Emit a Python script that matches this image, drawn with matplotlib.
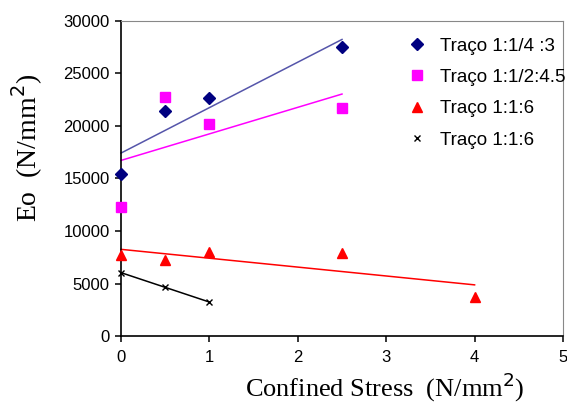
import numpy as np
import matplotlib
matplotlib.use("Agg")
import matplotlib.pyplot as plt

# Data
x_a = [0, 0.5, 1, 2.5]
y_a = [15400, 21400, 22700, 27500]          # Traço 1:1/4 :3
x_b = [0, 0.5, 1, 2.5]
y_b = [12300, 22800, 20200, 21700]          # Traço 1:1/2:4.5
x_c = [0, 0.5, 1, 2.5, 4]
y_c = [7700, 7200, 8000, 7900, 3700]        # Traço 1:1:6
x_d = [0, 0.5, 1]
y_d = [6000, 4700, 3200]                    # Traço 1:1:6 (x)

labels = ["Traço 1:1/4 :3", "Traço 1:1/2:4.5", "Traço 1:1:6", "Traço 1:1:6"]
x_ticks = [0, 1, 2, 3, 4, 5]
y_ticks = [0, 5000, 10000, 15000, 20000, 25000, 30000]

fig = plt.figure(figsize=(5.67, 4.08), dpi=100)
ax = fig.add_axes([121/567, 1-336/408, 442/567, 315/408])

series = [
    (x_a, y_a, dict(marker="D", color="#000080", ms=6), "#5555aa"),
    (x_b, y_b, dict(marker="s", color="#ff00ff", ms=6.5), "#ff00ff"),
    (x_c, y_c, dict(marker="^", color="#ff0000", ms=7.5), "#ff0000"),
    (x_d, y_d, dict(marker="x", color="#000000", ms=4, mew=1), "#000000"),
]
handles = []
for (xs, ys, mk, lc), lab in zip(series, labels):
    xs = np.array(xs, float); ys = np.array(ys, float)
    m, b = np.polyfit(xs, ys, 1)
    xx = np.array([xs.min(), xs.max()])
    ax.plot(xx, m*xx + b, color=lc, lw=1.1, zorder=2, clip_on=False)
    h, = ax.plot(xs, ys, linestyle="none", label=lab, zorder=3, clip_on=False, **mk)
    handles.append(h)

ax.set_xlim(0, 5)
ax.set_ylim(0, 30000)
ax.set_xticks(x_ticks)
ax.set_yticks(y_ticks)
for s in ["top", "right"]:
    ax.spines[s].set_color("#888888")
for s in ["left", "bottom"]:
    ax.spines[s].set_color("black")
    ax.spines[s].set_linewidth(1.2)
ax.tick_params(direction="out", length=4, width=1.1, labelsize=12, pad=4)
for t in ax.get_xticklabels() + ax.get_yticklabels():
    t.set_family("Liberation Sans")
ax.tick_params(axis="x", pad=6)

ax.set_xlabel("Confined Stress  (N/mm$^2$)", family="Liberation Serif", fontsize=19)
ax.set_ylabel("Eo  (N/mm$^2$)", family="Liberation Serif", fontsize=20)
ax.xaxis.set_label_coords(0.597, -0.11)
ax.yaxis.set_label_coords(-0.172, 0.597)

leg = ax.legend(handles=handles, loc="upper left", bbox_to_anchor=(0.652, 0.948),
                frameon=False, borderaxespad=0, borderpad=0, handlelength=0.85,
                handletextpad=0.8, labelspacing=0.76,
                prop={"family": "Liberation Sans", "size": 13.5})

fig.savefig("out.png", dpi=100)
